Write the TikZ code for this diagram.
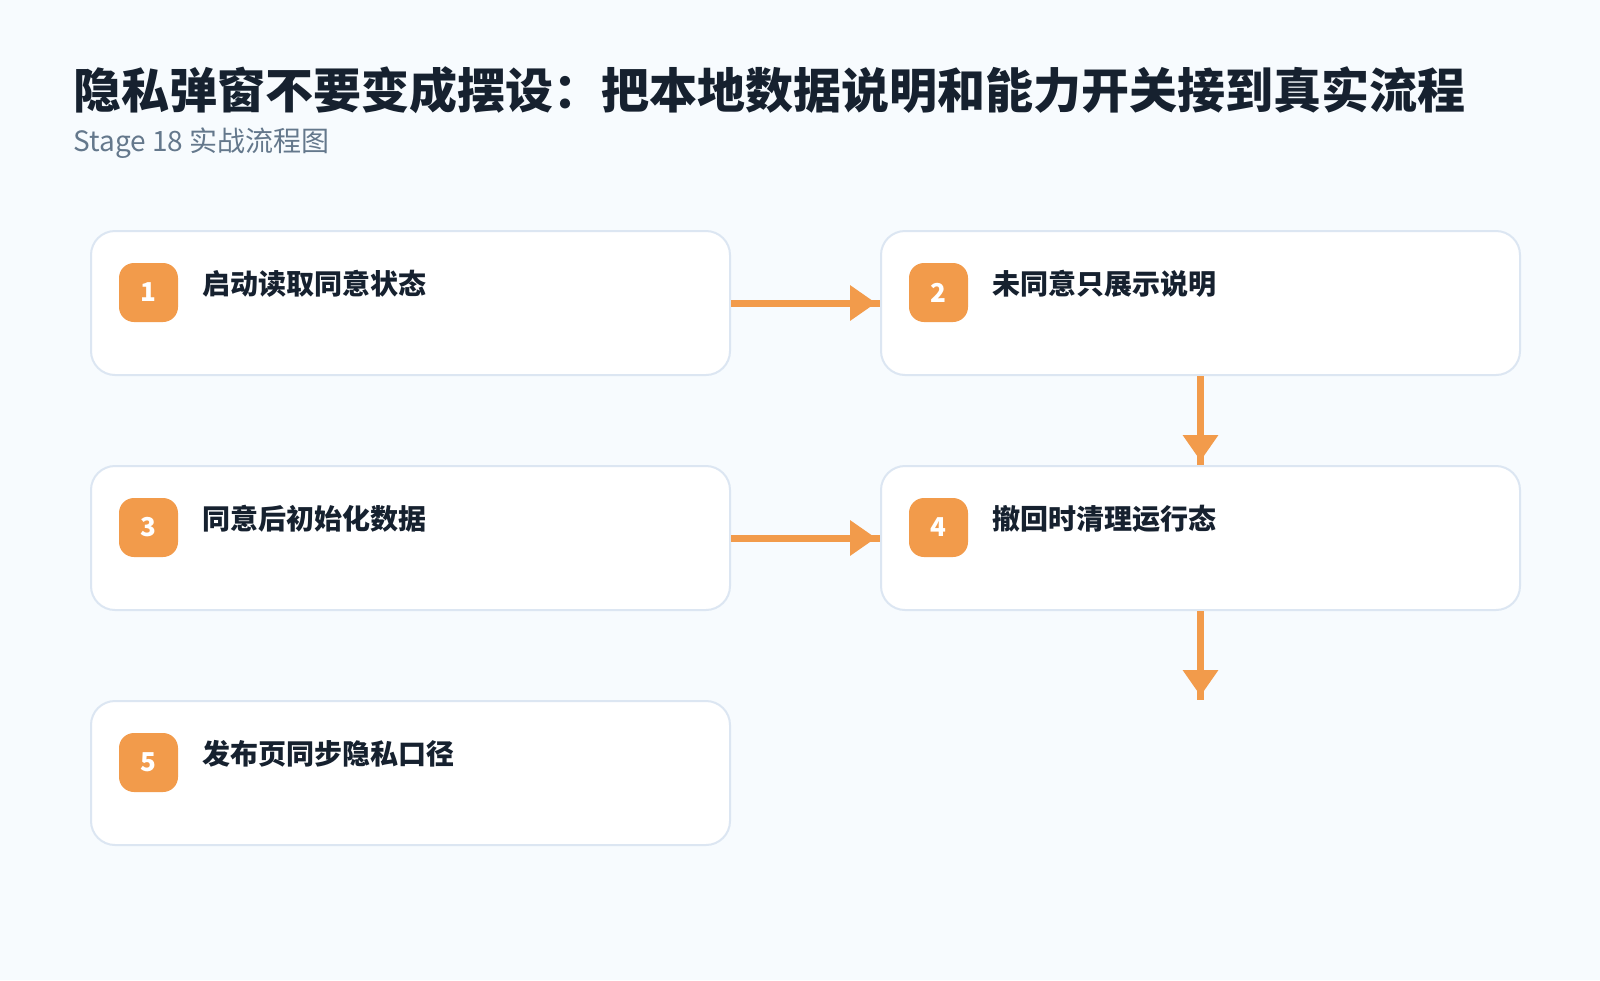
\documentclass[tikz,border=0pt]{standalone}
\usepackage{fontspec}
\setmainfont{Noto Sans CJK SC}
\usepackage{tikz}
\usetikzlibrary{positioning, arrows.meta}

\definecolor{bgblue}{HTML}{F7FBFE}
\definecolor{boxline}{HTML}{DCE6F2}
\definecolor{accent}{HTML}{F29B4B}
\definecolor{ink}{HTML}{16212F}
\definecolor{subgrey}{HTML}{64788C}

\begin{document}
\begin{tikzpicture}[
            stepbox/.style={draw=boxline, line width=1pt, fill=white, rounded corners=12pt, minimum width=319.5pt, minimum height=72pt, inner sep=0pt},
            badge/.style={fill=accent, rounded corners=7.5pt, minimum size=29.5pt, inner sep=0pt, text=white, font=\fontsize{13}{13}\selectfont\bfseries},
            steptext/.style={inner sep=0pt, text=ink, font=\fontsize{14}{14}\selectfont\bfseries},
            flow/.style={draw=accent, line width=3.5pt, postaction={draw=accent, shorten >=2pt, -{Triangle[length=13pt, width=17pt]}}}
        ]

        % Hintergrund
        \fill[bgblue] (0,0) rectangle (800pt,-490pt);
        \useasboundingbox (0,0) rectangle (800pt,-490pt);

        % Kopf
        \node[anchor=west, inner sep=0pt, text=ink, font=\fontsize{24}{24}\selectfont\bfseries] (title) at (36.5pt,-45pt) {隐私弹窗不要变成摆设：把本地数据说明和能力开关接到真实流程};
        \node[anchor=west, inner sep=0pt, text=subgrey, font=\fontsize{14}{14}\selectfont] (subtitle) at (36.5pt,-71.5pt) {Stage 18 实战流程图};

        % Knoten
        \node[stepbox] (s1) at (205.25pt,-151.5pt) {};
        \node[stepbox, right=74.5pt of s1] (s2) {};
        \node[stepbox, below=44.5pt of s1] (s3) {};
        \node[stepbox, below=44.5pt of s2] (s4) {};
        \node[stepbox, below=44.5pt of s3] (s5) {};

        \node[badge] (n1) at ([xshift=29.25pt, yshift=-31.25pt]s1.north west) {1};
        \node[badge] (n2) at ([xshift=29.25pt, yshift=-31.25pt]s2.north west) {2};
        \node[badge] (n3) at ([xshift=29.25pt, yshift=-31.25pt]s3.north west) {3};
        \node[badge] (n4) at ([xshift=29.25pt, yshift=-31.25pt]s4.north west) {4};
        \node[badge] (n5) at ([xshift=29.25pt, yshift=-31.25pt]s5.north west) {5};

        \node[steptext, right=12pt of n1, yshift=4.4pt] (t1) {启动读取同意状态};
        \node[steptext, right=12pt of n2, yshift=4.4pt] (t2) {未同意只展示说明};
        \node[steptext, right=12pt of n3, yshift=4.4pt] (t3) {同意后初始化数据};
        \node[steptext, right=12pt of n4, yshift=4.4pt] (t4) {撤回时清理运行态};
        \node[steptext, right=12pt of n5, yshift=4.4pt] (t5) {发布页同步隐私口径};

        % Kanten
        \coordinate[below=44.5pt of s4.south] (s6);
        \draw[flow] (s1.east) -- (s2.west);
        \draw[flow] (s3.east) -- (s4.west);
        \draw[flow] (s2.south) -- (s4.north);
        \draw[flow] (s4.south) -- (s6);

    \end{tikzpicture}
\end{document}
